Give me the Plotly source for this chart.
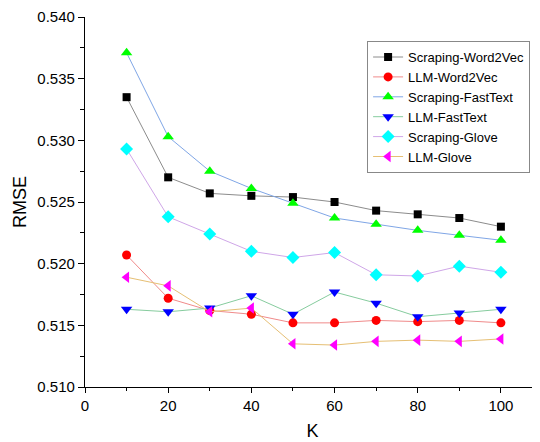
import plotly.graph_objects as go

K = [10, 20, 30, 40, 50, 60, 70, 80, 90, 100]

scraping_word2vec = [0.5335, 0.5270, 0.5257, 0.5255, 0.5254, 0.5250, 0.5243, 0.5240, 0.5237, 0.5230]
llm_word2vec = [0.5207, 0.5172, 0.5162, 0.5159, 0.5152, 0.5152, 0.5154, 0.5153, 0.5154, 0.5152]
scraping_fasttext = [0.5371, 0.5303, 0.5275, 0.5261, 0.5249, 0.5237, 0.5232, 0.5227, 0.5223, 0.5219]
llm_fasttext = [0.5163, 0.5161, 0.5164, 0.5174, 0.5159, 0.5177, 0.5168, 0.5157, 0.5160, 0.5163]
scraping_glove = [0.5293, 0.5238, 0.5224, 0.5210, 0.5205, 0.5209, 0.5191, 0.5190, 0.5198, 0.5193]
llm_glove = [0.5189, 0.5182, 0.5161, 0.5164, 0.5135, 0.5134, 0.5137, 0.5138, 0.5137, 0.5139]

series = [
    ("Scraping-Word2Vec", scraping_word2vec, "square", "#000000", "#8c8c8c", 8),
    ("LLM-Word2Vec", llm_word2vec, "circle", "#ff0000", "#f08a8a", 9),
    ("Scraping-FastText", scraping_fasttext, "triangle-up", "#00ff00", "#7fa6e6", 10),
    ("LLM-FastText", llm_fasttext, "triangle-down", "#0000ff", "#86cc9e", 10),
    ("Scraping-Glove", scraping_glove, "diamond", "#00ffff", "#cfa6e8", 10),
    ("LLM-Glove", llm_glove, "triangle-left", "#ff00ff", "#e6bf74", 10),
]

fig = go.Figure()
for name, vals, sym, mcol, lcol, sz in series:
    fig.add_trace(go.Scatter(
        x=K, y=vals, name=name, mode="lines+markers",
        line=dict(color=lcol, width=1),
        marker=dict(symbol=sym, color=mcol, size=sz, line=dict(width=0)),
    ))

FAM = "Liberation Sans, Arial, sans-serif"
axis_font = dict(family=FAM, size=15, color="black")
# page body has an 8px margin, so the figure is drawn 8px smaller
fig.update_layout(
    width=532, height=434,
    margin=dict(l=77, r=0, t=9, b=55),
    paper_bgcolor="white", plot_bgcolor="white",
    font=dict(family=FAM, color="black"),
    showlegend=True,
    legend=dict(
        x=0.62, y=0.935, xanchor="left", yanchor="top",
        bgcolor="white", bordercolor="#888888", borderwidth=1,
        font=dict(size=13, family=FAM),
        tracegroupgap=0, itemwidth=30,
    ),
)
fig.update_xaxes(
    range=[0, 109.4], tickvals=[0, 20, 40, 60, 80, 100], automargin=False,
    showline=True, linecolor="black", linewidth=1.3, showgrid=False, zeroline=False,
    ticks="outside", ticklen=5, tickcolor="black", tickwidth=1.3,
    minor=dict(tickvals=[10, 30, 50, 70, 90], ticks="outside", ticklen=3, tickcolor="black", showgrid=False),
    tickfont=axis_font,
    title=dict(text="K", font=dict(size=18, family=FAM), standoff=11),
)
fig.update_yaxes(
    range=[0.510, 0.540], tickvals=[0.510, 0.515, 0.520, 0.525, 0.530, 0.535, 0.540],
    tickformat=".3f", automargin=False,
    showline=True, linecolor="black", linewidth=1.3, showgrid=False, zeroline=False,
    ticks="outside", ticklen=6, tickcolor="black", tickwidth=1.3,
    minor=dict(tickvals=[0.5125, 0.5175, 0.5225, 0.5275, 0.5325, 0.5375], ticks="outside", ticklen=4, tickcolor="black", showgrid=False),
    tickfont=axis_font,
    title=dict(text="RMSE", font=dict(size=18, family=FAM), standoff=6),
)

fig.write_html("out.html")
